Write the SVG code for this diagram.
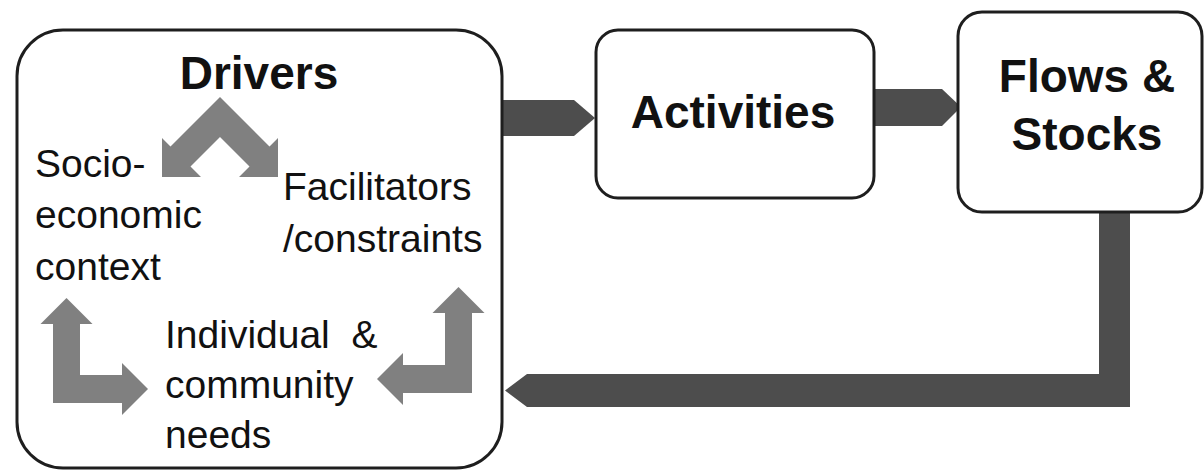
<svg xmlns="http://www.w3.org/2000/svg" width="1204" height="471" viewBox="0 0 1204 471">
<style>
.box{fill:#fff;stroke:#1e1e1e;stroke-width:3}
.t{font-family:"Liberation Sans",Arial,sans-serif;fill:#111}
.b{font-weight:bold;font-size:46px}
.r{font-size:39px}
.dark{fill:#4d4d4d}
.gray{fill:#808080}
</style>
<rect width="1204" height="471" fill="#fff"/>
<g id="connectors">
<path class="dark" d="M500,100 L574,100 L595,118 L574,136 L500,136 Z"/>
<path class="dark" d="M872,89 L942,89 L961,107 L942,126 L872,126 Z"/>
<path class="dark" d="M1130,205 L1130,407 L527,407 L505,390.5 L527,374 L1099,374 L1099,205 Z"/>
</g>
<g id="drivers">
<rect class="box" x="17" y="30" width="485" height="438" rx="46" ry="46"/>
<text class="t b" x="259" y="89" text-anchor="middle">Drivers</text>
<path class="gray" d="M220,97 L269.5,146.5 L278,138 L278,177 L239,177 L249.5,166.5 L220,137 L190.5,166.5 L201,177 L162,177 L162,138 L170.5,146.5 Z"/>
<path class="gray" d="M66.5,298 L92.5,324 L80,324 L80,375 L122,375 L122,363 L148,389 L122,415 L122,403 L53,403 L53,324 L40.5,324 Z"/>
<path class="gray" d="M458.5,287 L484.5,313 L472,313 L472,393 L403,393 L403,405 L377,379 L403,353 L403,365 L445,365 L445,313 L432.5,313 Z"/>
<text class="t r" x="35" y="177">Socio-</text>
<text class="t r" x="35" y="228">economic</text>
<text class="t r" x="35" y="280">context</text>
<text class="t r" x="283" y="200">Facilitators</text>
<text class="t r" x="283" y="252">/constraints</text>
<text class="t r" x="165" y="348">Individual&#160; &amp;</text>
<text class="t r" x="165" y="398">community</text>
<text class="t r" x="165" y="448">needs</text>
</g>
<g id="activities">
<rect class="box" x="596" y="30" width="278" height="168" rx="22" ry="22"/>
<text class="t b" x="733" y="128" text-anchor="middle">Activities</text>
</g>
<g id="flows">
<rect class="box" x="958" y="12" width="244" height="200" rx="24" ry="24"/>
<text class="t b" x="1087" y="92" text-anchor="middle">Flows &amp;</text>
<text class="t b" x="1087" y="150" text-anchor="middle">Stocks</text>
</g>
</svg>
